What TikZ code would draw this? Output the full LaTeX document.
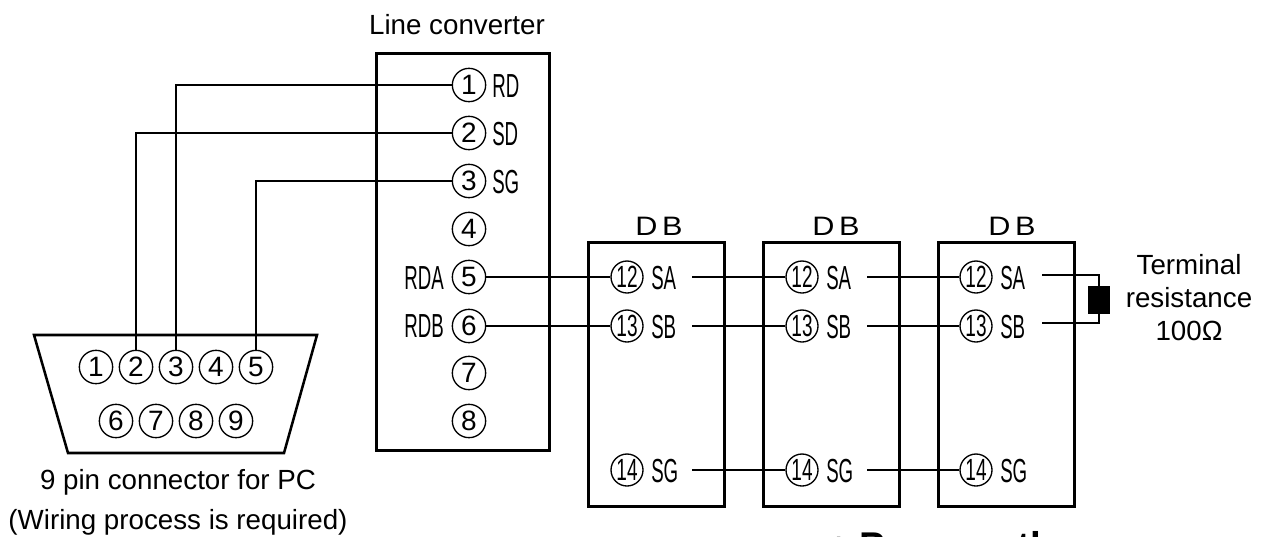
\documentclass[tikz,border=0pt]{standalone}
\usepackage{fontspec}
\setmainfont{Liberation Sans}
\newfontfamily\narrowf[FakeStretch=0.56]{Liberation Sans}
\newfontfamily\pinf[FakeStretch=0.62]{Liberation Sans}
\newfontfamily\widef[FakeStretch=1.15]{Liberation Sans}
\tikzset{
  px/.style={x=0.75pt,y=-0.75pt},
  pin/.style={draw,circle,line width=1pt,minimum size=25pt,inner sep=0pt,font=\fontsize{21}{21}\selectfont},
  dbpin/.style={draw,circle,line width=1pt,minimum size=24pt,inner sep=0pt,font=\pinf\fontsize{23}{23}\selectfont},
  sig/.style={inner sep=0pt,font=\narrowf\fontsize{25}{25}\selectfont},
  caption/.style={inner sep=0pt,font=\fontsize{20.8}{30}\selectfont,align=center},
  dbtitle/.style={inner sep=0pt,font=\widef\fontsize{20}{20}\selectfont},
  frame/.style={draw,line width=1.9pt,line join=miter},
  wire/.style={draw,line width=1.5pt},
  clipped/.style={inner sep=0pt,font=\bfseries\fontsize{29}{29}\selectfont,anchor=base west}
}
\begin{document}
\begin{tikzpicture}[px]
\useasboundingbox (0,0) rectangle (1263,536);
% frames
\node[frame,anchor=north west,minimum width=130pt,minimum height=298pt,inner sep=0pt] (conv) at (375,52) {};
\node[frame,anchor=north west,minimum width=102pt,minimum height=198pt,inner sep=0pt] (dba) at (587,241) {};
\node[frame,anchor=north west,minimum width=102pt,minimum height=198pt,inner sep=0pt] (dbb) at (762,241) {};
\node[frame,anchor=north west,minimum width=102pt,minimum height=198pt,inner sep=0pt] (dbc) at (937,241) {};
\draw[frame] (34,335) -- (317,335) -- (284,453) -- (68,453) -- cycle;
% titles
\node[caption] (ttl) at (457,25) {Line converter};
\node[dbtitle] (dta) at (659,226) {D\,B};
\node[dbtitle] (dtb) at (836,226) {D\,B};
\node[dbtitle] (dtc) at (1012,226) {D\,B};
\node[caption] (pcl) at (178,502) {9 pin connector for PC\\(Wiring process is required)};
\node[caption,font=\fontsize{20.8}{24.7}\selectfont] (term) at (1189,298) {Terminal\\resistance\\100Ω};
% converter pins
\node[pin] (l1) at (469,85) {1};
\node[pin] (l2) at (469,133) {2};
\node[pin] (l3) at (469,181) {3};
\node[pin] (l4) at (469,229) {4};
\node[pin] (l5) at (469,277) {5};
\node[pin] (l6) at (469,326) {6};
\node[pin] (l7) at (469,373) {7};
\node[pin] (l8) at (469,421) {8};
\node[sig,anchor=west] (srd) at (492,86) {RD};
\node[sig,anchor=west] (ssd) at (492,134) {SD};
\node[sig,anchor=west] (ssg) at (492,182) {SG};
\node[sig,anchor=east] (srda) at (444,278) {RDA};
\node[sig,anchor=east] (srdb) at (444,326) {RDB};
% D-sub pins
\node[pin] (p1) at (96,367) {1};
\node[pin] (p2) at (136,367) {2};
\node[pin] (p3) at (176,367) {3};
\node[pin] (p4) at (216,367) {4};
\node[pin] (p5) at (256,367) {5};
\node[pin] (p6) at (116,421) {6};
\node[pin] (p7) at (156,421) {7};
\node[pin] (p8) at (196,421) {8};
\node[pin] (p9) at (236,421) {9};
% DB pins
\foreach \n/\x in {a/627,b/802,c/976}{
  \node[dbpin] (\n12) at (\x,277) {12};
  \node[dbpin] (\n13) at (\x,326) {13};
  \node[dbpin] (\n14) at (\x,470) {14};
  \node[sig,anchor=west] (\n sa) at (\x+24,278) {SA};
  \node[sig,anchor=west] (\n sb) at (\x+24,327) {SB};
  \node[sig,anchor=west] (\n sg) at (\x+24,471) {SG};
}
\coordinate (aoa) at (692,277);
\coordinate (aob) at (692,326);
\coordinate (aog) at (692,470);
\coordinate (boa) at (867,277);
\coordinate (bob) at (867,326);
\coordinate (bog) at (867,470);
\coordinate (coa) at (1042,275);
\coordinate (cob) at (1042,323);
% resistor
\node[draw,fill=black,minimum width=16pt,minimum height=20.5pt,inner sep=0pt] (res) at (1099,300) {};
% wires
\draw[wire] (p3.north) |- (l1.west);
\draw[wire] (p2.north) |- (l2.west);
\draw[wire] (p5.north) |- (l3.west);
\draw[wire] (l5.east) -- (a12.west);
\draw[wire] (l6.east) -- (a13.west);
\draw[wire] (aoa) -- (b12.west);
\draw[wire] (aob) -- (b13.west);
\draw[wire] (aog) -- (b14.west);
\draw[wire] (boa) -- (c12.west);
\draw[wire] (bob) -- (c13.west);
\draw[wire] (bog) -- (c14.west);
\draw[wire] (coa) -| (res.north);
\draw[wire] (cob) -| (res.south);
% text cut off by the lower edge of the picture
\node[clipped] (cuta) at (832,562) {t};
\node[clipped] (cutb) at (859,559) {P};
\node[clipped] (cutc) at (1017,559) {th};
\end{tikzpicture}
\end{document}
